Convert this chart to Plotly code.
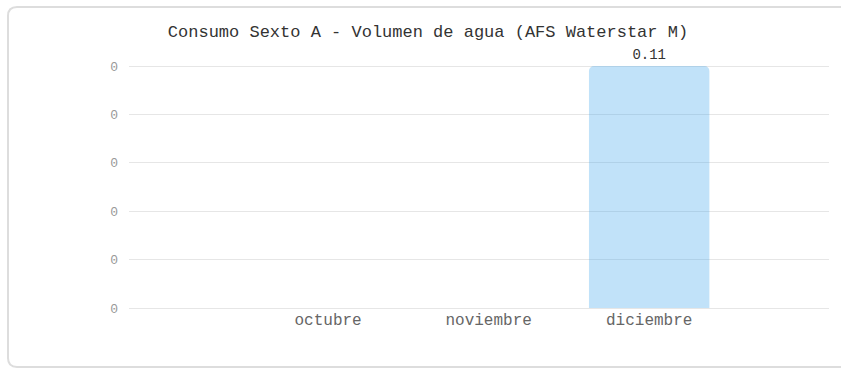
import plotly.graph_objects as go

# Monthly water volume for Sexto A (AFS Waterstar M)
months = ["octubre", "noviembre", "diciembre"]
volume = [None, None, 0.11]

W, H = 841, 368
L, R, T, B = 129, 12, 64, 60
PW, PH = W - L - R, H - T - B
Y_TOP = 0.11 * PH / (PH - 2)  # leave the top gridline 2px inside the plot

FONT = "Liberation Mono, DejaVu Sans Mono, monospace"


def px_to_paper(x, y):
    return (x - L) / PW, (H - B - y) / PH


def rounded_rect(x0, y0, x1, y1, r):
    pts = []
    def p(x, y):
        a, b = px_to_paper(x, y)
        return f"{a:.5f},{b:.5f}"
    pts.append("M " + p(x0 + r, y0))
    pts.append("L " + p(x1 - r, y0))
    pts.append("Q " + p(x1, y0) + " " + p(x1, y0 + r))
    pts.append("L " + p(x1, y1 - r))
    pts.append("Q " + p(x1, y1) + " " + p(x1 - r, y1))
    pts.append("L " + p(x0 + r, y1))
    pts.append("Q " + p(x0, y1) + " " + p(x0, y1 - r))
    pts.append("L " + p(x0, y0 + r))
    pts.append("Q " + p(x0, y0) + " " + p(x0 + r, y0))
    return " ".join(pts) + " Z"


fig = go.Figure(
    go.Bar(
        x=list(range(len(months))),
        y=volume,
        width=0.75,
        marker=dict(color="rgba(54,162,235,0.31)", line=dict(width=0), cornerradius=5),
        texttemplate="%{y:.2f}",
        textposition="outside",
        textfont=dict(family=FONT, size=14, color="#333333"),
        cliponaxis=False,
        hoverinfo="skip",
    )
)

fig.update_layout(
    width=W,
    height=H,
    margin=dict(l=L, r=R, t=T, b=B),
    paper_bgcolor="white",
    plot_bgcolor="white",
    showlegend=False,
    font=dict(family=FONT),
    title=dict(
        text="Consumo Sexto A - Volumen de agua (AFS Waterstar M)",
        x=428 / W,
        xanchor="center",
        y=1 - 31.5 / H,
        yanchor="middle",
        font=dict(family=FONT, size=17, color="#333333"),
    ),
    xaxis=dict(
        range=[-1.24, 3.12],
        tickmode="array",
        tickvals=list(range(len(months))),
        ticktext=months,
        showgrid=False,
        zeroline=False,
        showline=False,
        ticks="",
        tickfont=dict(family=FONT, size=16, color="#666666"),
    ),
    yaxis=dict(
        range=[0, Y_TOP],
        tick0=0,
        dtick=0.022,
        tickformat=".0f",
        showgrid=True,
        gridcolor="#e6e6e6",
        gridwidth=1,
        zeroline=True,
        zerolinecolor="#e6e6e6",
        zerolinewidth=1,
        showline=False,
        ticks="",
        ticklabelstandoff=10,
        tickfont=dict(family=FONT, size=13, color="#999999"),
    ),
    shapes=[
        dict(
            type="path",
            xref="paper",
            yref="paper",
            path=rounded_rect(8, 7, 852, 367, 9),
            line=dict(color="#dddddd", width=2),
            fillcolor="rgba(0,0,0,0)",
            layer="below",
        )
    ],
)

fig.write_html("out.html")
